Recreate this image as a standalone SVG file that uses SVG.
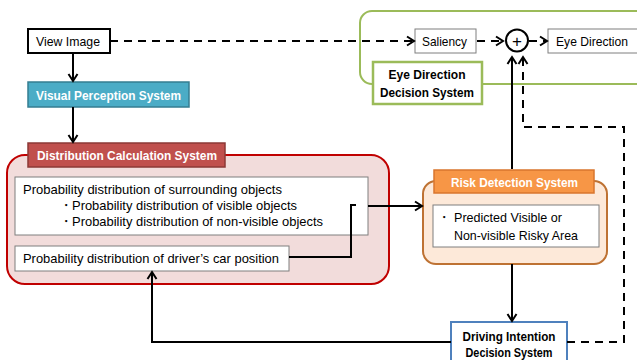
<svg xmlns="http://www.w3.org/2000/svg" width="637" height="360" viewBox="0 0 637 360">
<defs>
<marker id="arr" markerUnits="userSpaceOnUse" markerWidth="12" markerHeight="12" refX="9" refY="6" orient="auto">
<path d="M2,1.5 L9,6 L2,10.5" fill="none" stroke="#000" stroke-width="2"/>
</marker>
<style>
text{font-family:"Liberation Sans",Arial,sans-serif;fill:#000}
.t{font-size:13.5px}
.b{font-size:13px;font-weight:bold}
.w{fill:#fff}
.ln{fill:none;stroke:#000;stroke-width:2}
.ds{stroke-dasharray:8,6}
.box{fill:#fff;stroke:#7f7f7f;stroke-width:1}
</style>
</defs>
<rect width="637" height="360" fill="#fff"/>

<g id="eye-direction-decision-system">
<rect x="360" y="11" width="300" height="73" rx="12" fill="none" stroke="#9BBB59" stroke-width="2"/>
<rect x="373" y="62" width="109" height="42" fill="#fff" stroke="#9BBB59" stroke-width="2.5"/>
<text class="b" x="427" y="79" text-anchor="middle" textLength="77" lengthAdjust="spacingAndGlyphs">Eye Direction</text>
<text class="b" x="427" y="97" text-anchor="middle" textLength="94" lengthAdjust="spacingAndGlyphs">Decision System</text>
</g>

<g id="view-image">
<rect x="28" y="29" width="82" height="24" fill="#fff" stroke="#000" stroke-width="2"/>
<text class="t" x="36" y="46" textLength="64" lengthAdjust="spacingAndGlyphs">View Image</text>
</g>

<g id="saliency">
<rect x="415" y="29" width="61" height="24" class="box" stroke="#595959"/>
<text class="t" x="422" y="46" textLength="45" lengthAdjust="spacingAndGlyphs">Saliency</text>
</g>

<g id="sum">
<circle cx="517" cy="40.5" r="11" fill="#fff" stroke="#000" stroke-width="2"/>
<text x="517" y="46.5" text-anchor="middle" style="font-size:17px">+</text>
</g>

<g id="eye-direction">
<rect x="548" y="29" width="100" height="24" class="box" stroke="#595959"/>
<text class="t" x="556" y="46" textLength="72" lengthAdjust="spacingAndGlyphs">Eye Direction</text>
</g>

<g id="visual-perception-system">
<rect x="28" y="82" width="161" height="25" fill="#4BACC6" stroke="#357D91" stroke-width="1.5"/>
<text class="b w" x="36" y="99.5" textLength="145" lengthAdjust="spacingAndGlyphs">Visual Perception System</text>
</g>

<g id="distribution-calculation-system">
<rect x="7" y="155" width="382" height="129" rx="18" fill="#F2DCDB" stroke="#C00000" stroke-width="2"/>
<rect x="28" y="143" width="197" height="24" fill="#C0504D" stroke="#8C3836" stroke-width="1.5"/>
<text class="b w" x="37" y="160" textLength="180" lengthAdjust="spacingAndGlyphs">Distribution Calculation System</text>
<rect x="15" y="177" width="353" height="58" class="box"/>
<text class="t" x="23" y="193.5" textLength="259" lengthAdjust="spacingAndGlyphs">Probability distribution of surrounding objects</text>
<text class="t" x="59" y="209.5">・</text>
<text class="t" x="72" y="209.5" textLength="225" lengthAdjust="spacingAndGlyphs">Probability distribution of visible objects</text>
<text class="t" x="59" y="225.5">・</text>
<text class="t" x="72" y="225.5" textLength="251" lengthAdjust="spacingAndGlyphs">Probability distribution of non-visible objects</text>
<rect x="15" y="246" width="274" height="25" class="box"/>
<text class="t" x="23" y="263" textLength="256" lengthAdjust="spacingAndGlyphs">Probability distribution of driver’s car position</text>
</g>

<g id="risk-detection-system">
<rect x="423" y="181" width="184" height="83" rx="13" fill="#FDE9D9" stroke="#BE7233" stroke-width="2"/>
<rect x="434" y="170" width="160" height="23" fill="#F79646" stroke="#D9762E" stroke-width="1.5"/>
<text class="b w" x="451" y="186.5" textLength="127" lengthAdjust="spacingAndGlyphs">Risk Detection System</text>
<rect x="433" y="205" width="166" height="42" class="box" stroke="#404040"/>
<text class="t" x="437" y="221.5">・</text>
<text class="t" x="454" y="221.5" textLength="108" lengthAdjust="spacingAndGlyphs">Predicted Visible or</text>
<text class="t" x="454" y="239.5" textLength="124" lengthAdjust="spacingAndGlyphs">Non-visible Risky Area</text>
</g>

<g id="driving-intention-decision-system">
<rect x="451" y="322" width="116" height="45" fill="#fff" stroke="#4F81BD" stroke-width="2"/>
<text class="b" x="509" y="341" text-anchor="middle" textLength="93" lengthAdjust="spacingAndGlyphs">Driving Intention</text>
<text class="b" x="509" y="357" text-anchor="middle" textLength="87" lengthAdjust="spacingAndGlyphs">Decision System</text>
</g>

<g id="connectors">
<path class="ln ds" d="M110,41 H414" marker-end="url(#arr)"/>
<path class="ln ds" d="M477,41 H503" marker-end="url(#arr)"/>
<path class="ln ds" d="M529,41 H547" marker-end="url(#arr)"/>
<path class="ln" d="M73,53 V81" marker-end="url(#arr)"/>
<path class="ln" d="M73,107 V142" marker-end="url(#arr)"/>
<path class="ln" d="M289,257 H351 V205 H356"/>
<path class="ln" d="M368,206 H422" marker-end="url(#arr)"/>
<path class="ln" d="M512,169 V57" marker-end="url(#arr)"/>
<path class="ln" d="M512,264 V321" marker-end="url(#arr)"/>
<path class="ln" d="M451,342 H152 V272" marker-end="url(#arr)"/>
<path class="ln ds" d="M567,342 H624 V127 H523 V57" marker-end="url(#arr)"/>
</g>
</svg>
